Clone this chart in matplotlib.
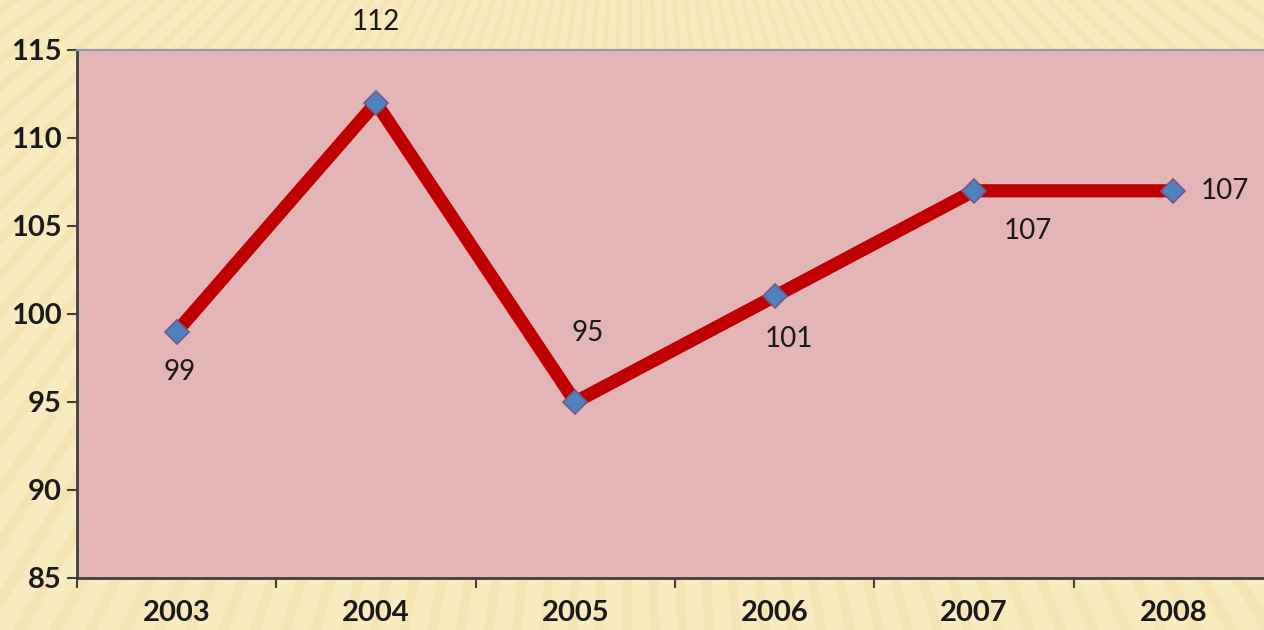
import numpy as np
import matplotlib.pyplot as plt
from matplotlib.patches import Polygon

# =====================================
# Data
# =====================================

years = ["2003", "2004", "2005", "2006", "2007", "2008"]

values = [99, 112, 95, 101, 107, 107]

y_ticks = [85, 90, 95, 100, 105, 110, 115]

# label offsets (points) for each data label
label_offsets = [(2, -29), (0, 58), (9, 50), (10, -31), (39, -29), (37, 0)]

# =====================================
# Figure + background
# =====================================

W, H = 1264, 630
fig = plt.figure(figsize=(W / 100, H / 100), dpi=100)
fig.patch.set_facecolor("#F9EBC0")

bg = fig.add_axes([0, 0, 1, 1], zorder=0)
bg.set_xlim(0, W)
bg.set_ylim(H, 0)
bg.axis("off")

# faint sunburst stripes
cx, cy = 632, -420
n_rays = 120
for k in range(n_rays):
    a0 = np.pi * k / n_rays
    a1 = a0 + np.pi / n_rays * 0.35
    r = 3000
    pts = [(cx, cy),
           (cx + r * np.cos(a0), cy + r * np.sin(a0)),
           (cx + r * np.cos(a1), cy + r * np.sin(a1))]
    bg.add_patch(Polygon(pts, closed=True, facecolor="#EEDBA2",
                         edgecolor="none", alpha=0.35))

# =====================================
# Plot
# =====================================

ax = fig.add_axes([77 / W, 1 - 578 / H, (1273 - 77) / W, (578 - 50) / H], zorder=1)
ax.set_facecolor("#E4B5B6")

x = np.arange(len(years))

ax.plot(x, values, color="#C00000", linewidth=9.5, solid_capstyle="round",
        zorder=3)
ax.plot(x, values, linestyle="none", marker="D", markersize=12,
        markerfacecolor="#4F81BD", markeredgecolor="#6E5A8C",
        markeredgewidth=1.2, zorder=4)

for xi, v, off in zip(x, values, label_offsets):
    ax.annotate(str(v), (xi, v), xytext=off, textcoords="offset points",
                ha="center", va="center", fontsize=20, family="Lato",
                color="#1a1a1a", zorder=5)

ax.set_xlim(-0.5, len(years) - 0.5)
ax.set_ylim(85, 115)

ax.set_yticks(y_ticks)
ax.set_yticklabels([str(t) for t in y_ticks], fontsize=21, family="Lato",
                   fontweight="bold", color="#1a1a1a")

ax.set_xticks(x)
ax.set_xticklabels(years, fontsize=21, family="Lato", fontweight="bold",
                   color="#1a1a1a")
ax.set_xticks(np.arange(-0.5, len(years) + 0.5, 1), minor=True)

ax.tick_params(axis="x", which="major", length=0, pad=16)
ax.tick_params(axis="x", which="minor", length=7, width=1.5,
               color="#404040", direction="out")
ax.tick_params(axis="y", length=7, width=1.5, color="#404040", pad=4)

for side in ["left", "bottom"]:
    ax.spines[side].set_color("#404040")
    ax.spines[side].set_linewidth(2)
ax.spines["top"].set_color("#8C9AB0")
ax.spines["top"].set_linewidth(1.5)
ax.spines["right"].set_visible(False)

fig.savefig("out.png", dpi=100, facecolor=fig.get_facecolor())
